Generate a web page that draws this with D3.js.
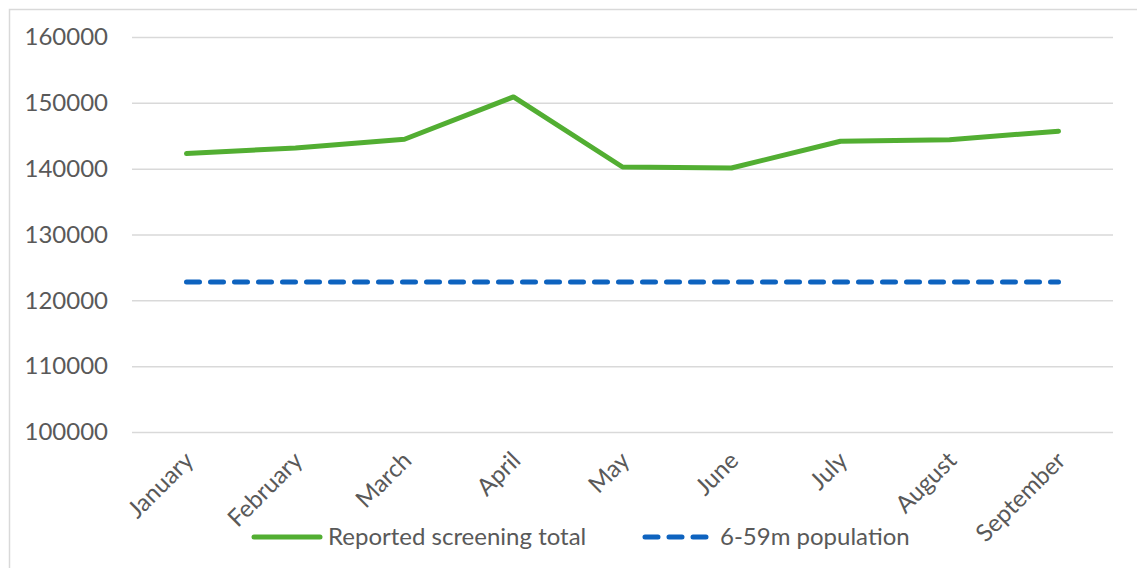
<!DOCTYPE html>
<html>
<head>
<meta charset="utf-8">
<script src="https://cdn.jsdelivr.net/npm/d3@7"></script>
<style>
  body { margin: 0; background: #fff; }
  svg { display: block; font-family: Lato, "Open Sans", sans-serif; }
  .tick-label { fill: #595959; font-size: 24px; }
  .legend-label { fill: #595959; font-size: 24px; }
</style>
</head>
<body>
<svg id="chart" width="1137" height="568"></svg>
<script>
const months = ['January', 'February', 'March', 'April', 'May', 'June', 'July', 'August', 'September']
const screeningTotal = [142300, 143150, 144470, 150900, 140250, 140100, 144160, 144400, 145700]
const population = [122800, 122800, 122800, 122800, 122800, 122800, 122800, 122800, 122800]
const yTicks = [100000, 110000, 120000, 130000, 140000, 150000, 160000]

const svg = d3.select('#chart')
const margin = { top: 37, left: 132, right: 1137 - 1113, bottom: 568 - 432 }
const width = 1137, height = 568

// chart frame
svg.append('rect')
  .attr('x', 9.5).attr('y', 9.5)
  .attr('width', 1140).attr('height', 600)
  .attr('fill', 'none')
  .attr('stroke', '#d9d9d9')
  .attr('stroke-width', 1.5)

const x = d3.scalePoint()
  .domain(months)
  .range([margin.left, width - margin.right])
  .padding(0.5)

const y = d3.scaleLinear()
  .domain([100000, 160000])
  .range([height - margin.bottom, margin.top])

// gridlines + y labels
const yAxis = d3.axisLeft(y)
  .tickValues(yTicks)
  .tickSize(-(width - margin.right - margin.left))
  .tickPadding(24)
  .tickFormat(d3.format('d'))

const gy = svg.append('g')
  .attr('transform', `translate(${margin.left},0)`)
  .call(yAxis)
  .attr('font-family', null).attr('font-size', null)
gy.select('.domain').remove()
gy.selectAll('line').attr('stroke', '#d9d9d9').attr('stroke-width', 1.5)
gy.selectAll('text').attr('class', 'tick-label')

// x labels, rotated like the spreadsheet ones
const xAxis = d3.axisBottom(x).tickSize(0)
const gx = svg.append('g')
  .attr('transform', `translate(0,${height - margin.bottom})`)
  .call(xAxis)
  .attr('font-family', null).attr('font-size', null)
gx.select('.domain').remove()
gx.selectAll('text')
  .attr('class', 'tick-label')
  .attr('text-anchor', 'end')
  .attr('dy', null)
  .attr('y', 0)
  .attr('transform', 'translate(8,30) rotate(-45)')

const line = d3.line()
  .x((d, i) => x(months[i]))
  .y(d => y(d))

svg.append('path')
  .datum(population)
  .attr('d', line)
  .attr('fill', 'none')
  .attr('stroke', '#0e63bf')
  .attr('stroke-width', 5)
  .attr('stroke-dasharray', '13 11')
  .attr('stroke-linecap', 'round')

svg.append('path')
  .datum(screeningTotal)
  .attr('d', line)
  .attr('fill', 'none')
  .attr('stroke', '#52ae32')
  .attr('stroke-width', 5)
  .attr('stroke-linecap', 'round')
  .attr('stroke-linejoin', 'round')

// legend
const legendItems = [
  { label: 'Reported screening total', color: '#52ae32', dash: null, x: 254 },
  { label: '6-59m population', color: '#0e63bf', dash: '13 11', x: 645 }
]
const legend = svg.append('g').attr('transform', 'translate(0,537)')
legendItems.forEach(item => {
  legend.append('line')
    .attr('x1', item.x).attr('x2', item.x + 66)
    .attr('y1', 0).attr('y2', 0)
    .attr('stroke', item.color)
    .attr('stroke-width', 5)
    .attr('stroke-linecap', 'round')
    .attr('stroke-dasharray', item.dash)
  legend.append('text')
    .attr('class', 'legend-label')
    .attr('x', item.x + (item.dash ? 75 : 74))
    .attr('y', 0)
    .attr('dy', '0.35em')
    .text(item.label)
})
</script>
</body>
</html>
